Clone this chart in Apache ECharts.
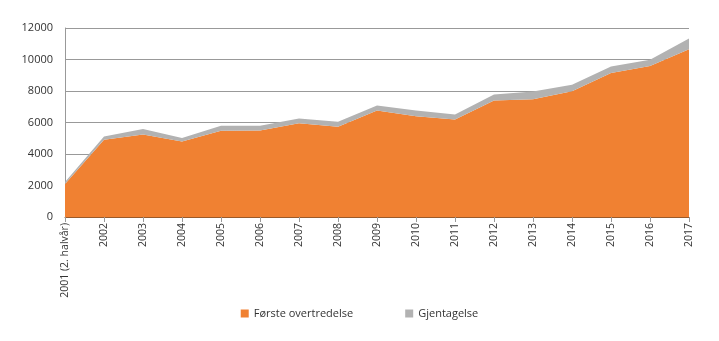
<!DOCTYPE html>
<html>
<head>
<meta charset="utf-8">
<script src="https://cdn.jsdelivr.net/npm/echarts@6/dist/echarts.min.js"></script>
<style>html,body{margin:0;padding:0;background:#fff}#c{width:719px;height:341px}</style>
</head>
<body>
<div id="c"></div>
<script>
var categories = ['2001 (2. halvår)','2002','2003','2004','2005','2006','2007','2008','2009','2010','2011','2012','2013','2014','2015','2016','2017'];
var forste = [2100,4900,5240,4800,5475,5500,5960,5730,6760,6400,6190,7395,7480,7985,9150,9590,10650];
var gjentagelse = [120,210,340,210,315,290,295,315,320,360,320,380,485,405,400,400,690];
var yTicks = [0,2000,4000,6000,8000,10000,12000];

var chart = echarts.init(document.getElementById('c'), null, {renderer:'canvas'});
chart.setOption({
  animation:false,
  grid:{left:65,right:30,top:28,bottom:124},
  legend:{
    data:['Første overtredelse','Gjentagelse'],
    top:303,left:'center',itemWidth:8,itemHeight:8,itemGap:52,icon:'rect',
    textStyle:{fontFamily:'Open Sans',fontSize:11,color:'#333'}
  },
  xAxis:{
    type:'category',data:categories,boundaryGap:false,
    axisLine:{lineStyle:{color:'#9a5a2a',width:1}},
    axisTick:{show:true,length:5,lineStyle:{color:'#999'}},
    axisLabel:{rotate:90,interval:0,fontFamily:'Open Sans',fontSize:10.5,color:'#333',margin:6}
  },
  yAxis:{
    type:'value',min:yTicks[0],max:yTicks[yTicks.length-1],interval:2000,
    axisLine:{show:true,lineStyle:{color:'#999'}},
    axisTick:{show:false},
    splitLine:{lineStyle:{color:'#999',width:1}},
    axisLabel:{fontFamily:'Open Sans',fontSize:11,color:'#333',margin:12,formatter:function(v){return String(v);}}
  },
  series:[
    {name:'Første overtredelse',type:'line',stack:'t',data:forste,symbol:'none',
     lineStyle:{width:0},itemStyle:{color:'#f08132'},areaStyle:{color:'#f08132',opacity:1}},
    {name:'Gjentagelse',type:'line',stack:'t',data:gjentagelse,symbol:'none',
     lineStyle:{width:0},itemStyle:{color:'#b2b2b2'},areaStyle:{color:'#b2b2b2',opacity:1}}
  ]
});
</script>
</body>
</html>
